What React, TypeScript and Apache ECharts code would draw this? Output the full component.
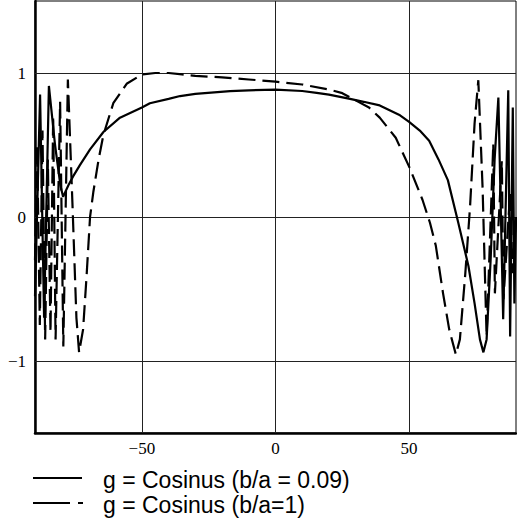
import React, { useEffect, useRef } from "react";
import * as echarts from "echarts";

const xTickValues = [-50, 0, 50];
const yTickValues = [-1, 0, 1];

const solidName = "g = Cosinus (b/a = 0.09)";
const dashedName = "g = Cosinus (b/a=1)";

const solidX = [-90, -88.1, -86.6, -84.8, -82.5, -80.5, -79.5, -77.5, -75.8, -73.2, -69.4, -64.4, -58.2, -50, -47, -40, -35.7, -30, -17, -10, 0, 10, 15.4, 20, 27.9, 33, 39, 46.6, 50, 54, 57.5, 61, 64.5, 68.4, 72.2, 74.5, 76.5, 77.8, 79, 80.5, 82, 83.4, 85.2, 87.1, 87.8, 88.8, 89.4, 90];
const solidY = [-0.55, 0.85, -0.7, 0.91, 0.5, 0.22, 0.14, 0.22, 0.28, 0.36, 0.47, 0.59, 0.69, 0.76, 0.79, 0.82, 0.84, 0.855, 0.874, 0.88, 0.884, 0.875, 0.862, 0.85, 0.82, 0.8, 0.775, 0.706, 0.66, 0.6, 0.53, 0.4, 0.256, -0.04, -0.34, -0.6, -0.85, -0.94, -0.85, -0.3, 0.4, 0.83, -0.71, 0.88, -0.83, 0.76, -0.6, 0.0];

const dashedX = [-90, -89.2, -88.2, -87.2, -86.2, -85.2, -84.2, -83.2, -82.3, -80.6, -79.4, -77.7, -76, -74.5, -73.5, -72, -70.7, -69.4, -68.2, -66.2, -64.4, -60.7, -55.7, -50, -45, -40, -35, -30, -20, -10, 0, 10, 20, 25, 30, 35, 39, 45, 50, 55, 57.8, 60, 62.7, 65, 67.5, 69, 71, 72.8, 74.5, 75.9, 77.5, 79, 81.5, 82.1, 84.7, 85.3, 87.8, 88.7, 90];
const dashedY = [-0.3, 0.5, -0.75, 0.6, -0.85, 0.4, -0.8, 0.7, -0.85, 0.8, -0.9, 0.955, 0.1, -0.7, -0.94, -0.78, -0.41, 0.0, 0.17, 0.4, 0.57, 0.79, 0.925, 0.99, 1.0, 1.0, 0.99, 0.98, 0.97, 0.955, 0.94, 0.92, 0.885, 0.86, 0.81, 0.76, 0.69, 0.55, 0.35, 0.12, -0.04, -0.2, -0.53, -0.78, -0.955, -0.85, -0.4, 0.07, 0.65, 0.95, 0.2, -0.83, 0.51, -0.53, 0.39, -0.57, 0.17, -0.39, 0.0];

const fmt = (v: number) => (v < 0 ? "\u2212" + Math.abs(v) : String(v));

export default function App() {
  const ref = useRef<HTMLDivElement>(null);
  useEffect(() => {
    if (!ref.current) return;
    const chart = echarts.init(ref.current, undefined, { renderer: "svg" });
    const gridLines = [
      ...xTickValues.map((v) => ({ xAxis: v })),
      ...yTickValues.map((v) => ({ yAxis: v })),
    ];
    chart.setOption({
      animation: false,
      backgroundColor: "#fff",
      grid: {
        left: 35,
        right: 1,
        top: 1,
        bottom: 85,
        show: true,
        borderColor: "#000",
        borderWidth: 1,
        backgroundColor: "transparent",
      },
      xAxis: {
        type: "value",
        min: -90,
        max: 90,
        axisLine: { show: true, onZero: false, lineStyle: { color: "#000", width: 2.5 } },
        axisTick: { show: false },
        splitLine: { show: false },
        axisLabel: {
          customValues: xTickValues,
          formatter: fmt,
          margin: 7,
          color: "#000",
          fontFamily: "Liberation Serif",
          fontSize: 17,
        },
      },
      yAxis: {
        type: "value",
        min: -1.5,
        max: 1.5,
        axisLine: { show: true, onZero: false, lineStyle: { color: "#000", width: 2.5 } },
        axisTick: { show: false },
        splitLine: { show: false },
        axisLabel: {
          customValues: yTickValues,
          formatter: fmt,
          margin: 9,
          color: "#000",
          fontFamily: "Liberation Serif",
          fontSize: 17,
        },
      },
      series: [
        {
          name: solidName,
          type: "line",
          data: solidX.map((x, i) => [x, solidY[i]]),
          showSymbol: false,
          symbol: "none",
          lineStyle: { color: "#000", width: 2.2 },
          z: 3,
          markLine: {
            silent: true,
            symbol: "none",
            label: { show: false },
            lineStyle: { color: "#222", width: 1, type: "solid" },
            emphasis: { disabled: true },
            z: 1,
            data: gridLines,
          },
        },
        {
          name: dashedName,
          type: "line",
          data: dashedX.map((x, i) => [x, dashedY[i]]),
          showSymbol: false,
          symbol: "none",
          lineStyle: { color: "#000", width: 2.2, type: [17, 7] },
          z: 3,
        },
      ],
      graphic: [
        {
          type: "line",
          shape: { x1: 33, y1: 478, x2: 82, y2: 478 },
          style: { stroke: "#000", lineWidth: 2 },
        },
        {
          type: "text",
          x: 103,
          y: 480,
          style: {
            text: solidName,
            fill: "#000",
            fontFamily: "Liberation Sans",
            fontSize: 23,
            verticalAlign: "middle",
          },
        },
        {
          type: "line",
          shape: { x1: 33, y1: 503, x2: 83, y2: 503 },
          style: { stroke: "#000", lineWidth: 2, lineDash: [37, 8] },
        },
        {
          type: "text",
          x: 103,
          y: 505,
          style: {
            text: dashedName,
            fill: "#000",
            fontFamily: "Liberation Sans",
            fontSize: 23,
            verticalAlign: "middle",
          },
        },
      ],
    });
    return () => chart.dispose();
  }, []);
  return (
    <div
      ref={ref}
      style={{ position: "fixed", left: 0, top: 0, width: 517, height: 518 }}
    />
  );
}
